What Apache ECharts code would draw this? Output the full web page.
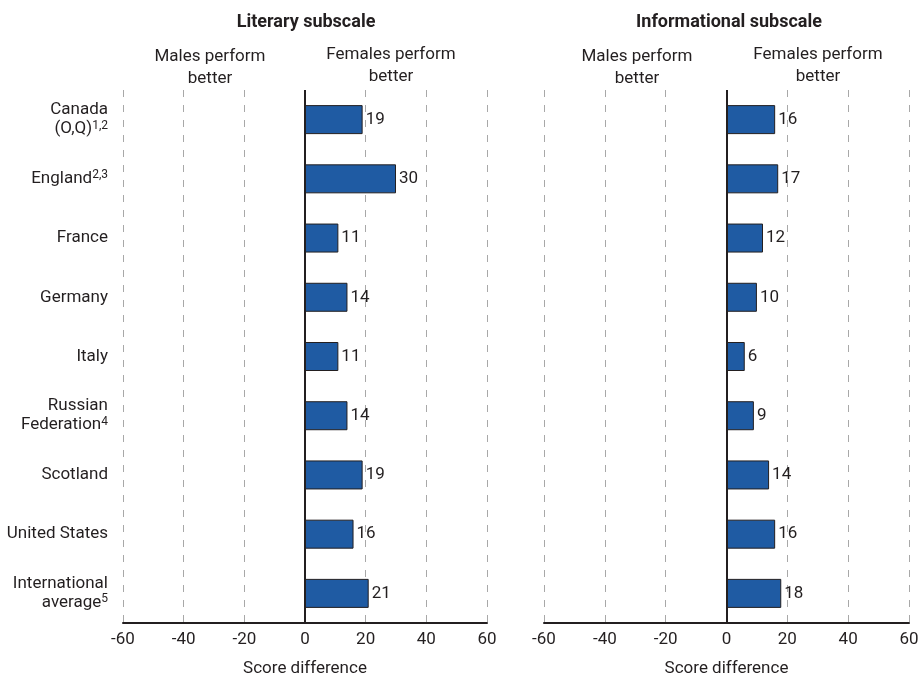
<!DOCTYPE html>
<html><head><meta charset="utf-8">
<script src="https://cdn.jsdelivr.net/npm/echarts@6/dist/echarts.min.js"></script>
<style>html,body{margin:0;padding:0;background:#fff}#c{width:918px;height:674px}</style>
</head><body><div id="c"></div>
<script>
const categories = ['Canada\n(O,Q){sup|1,2}', 'England{sup|2,3}', 'France', 'Germany', 'Italy', 'Russian\nFederation{sup|4}', 'Scotland', 'United States', 'International\naverage{sup|5}'];
const literary = [19, 30, 11, 14, 11, 14, 19, 16, 21];
const informational = [16, 17, 12, 10, 6, 9, 14, 16, 18];
const xTicks = { min: -60, max: 60, interval: 20 };
const panelTitles = ['Literary subscale', 'Informational subscale'];
const sideNotes = ['Males perform\nbetter', 'Females perform\nbetter'];
const axisName = 'Score difference';

const FONT = 'Roboto';
const TXT = '#231f20';
const FS = 17;
const chart = echarts.init(document.getElementById('c'));

function xAxis(idx) {
  return {
    type: 'value', gridIndex: idx, min: xTicks.min, max: xTicks.max, interval: xTicks.interval,
    name: axisName, nameLocation: 'middle', nameGap: 37,
    nameTextStyle: { fontFamily: FONT, fontSize: FS, color: TXT },
    axisLine: { show: true, onZero: false, lineStyle: { color: '#231f20', width: 2 } },
    axisTick: { show: false },
    axisLabel: { fontFamily: FONT, fontSize: FS, color: TXT, margin: 8 },
    splitLine: { show: true, lineStyle: { color: '#a8a8a8', width: 1, type: [7, 8] } }
  };
}
function yAxis(idx, showLabels) {
  return {
    type: 'category', gridIndex: idx, data: categories, inverse: true,
    axisLine: { show: false }, axisTick: { show: false },
    axisLabel: {
      show: showLabels, margin: 15, fontFamily: FONT, fontSize: FS, color: TXT, lineHeight: 19, align: 'right',
      rich: { sup: { fontFamily: FONT, fontSize: 12, color: TXT, verticalAlign: 'top', lineHeight: 19, padding: [0, 0, 6, 0] } }
    }
  };
}
function series(idx, data) {
  return {
    type: 'bar', xAxisIndex: idx, yAxisIndex: idx, data: data, barWidth: 29,
    itemStyle: { color: '#1f5ba3', borderColor: '#231f20', borderWidth: 1 },
    label: { show: true, position: 'right', distance: 3, fontFamily: FONT, fontSize: FS, color: TXT },
    markLine: {
      silent: true, symbol: 'none', animation: false,
      label: { show: false },
      lineStyle: { color: '#231f20', width: 2, type: 'solid' },
      data: [{ xAxis: 0 }]
    },
    animation: false
  };
}
function note(text, x, y, bold) {
  return { type: 'text', x: x, y: y, style: { text: text, fontFamily: FONT, fontSize: bold ? 18 : FS, fontWeight: bold ? 'bold' : 'normal', fill: TXT, align: 'center', verticalAlign: 'middle', lineHeight: 22 } };
}

chart.setOption({
  animation: false,
  grid: [
    { left: 123, right: 431, top: 90, bottom: 51, outerBoundsMode: 'none', containLabel: false },
    { left: 544, right: 9, top: 90, bottom: 51, outerBoundsMode: 'none', containLabel: false }
  ],
  xAxis: [xAxis(0), xAxis(1)],
  yAxis: [yAxis(0, true), yAxis(1, false)],
  series: [series(0, literary), series(1, informational)],
  graphic: [
    note(panelTitles[0], 306, 22, true),
    note(panelTitles[1], 729, 22, true),
    note(sideNotes[0], 210, 68, false),
    note(sideNotes[1], 391, 66, false),
    note(sideNotes[0], 637, 68, false),
    note(sideNotes[1], 818, 66, false)
  ]
});
</script></body></html>
